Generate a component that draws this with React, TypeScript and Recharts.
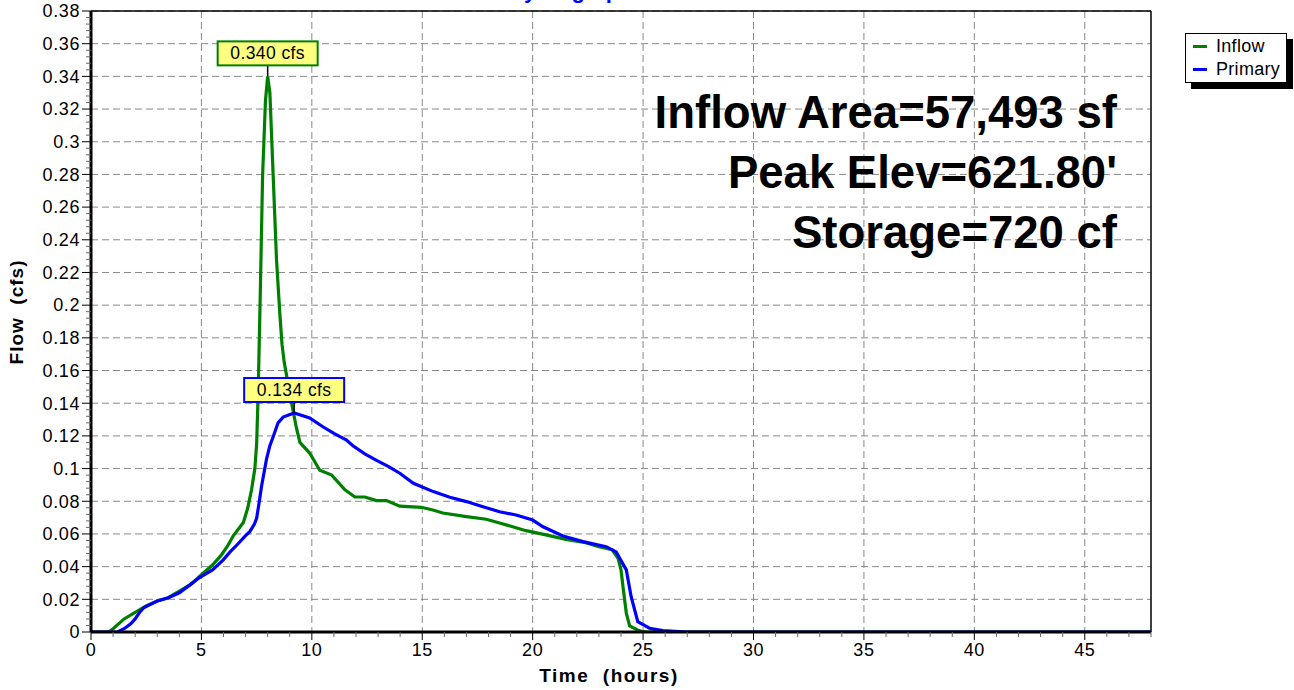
import { LineChart, Line, XAxis, YAxis, CartesianGrid, ReferenceLine, ReferenceDot } from 'recharts'

const FONT = '"Liberation Sans", Arial, sans-serif'
const PLOT_LEFT = 91
const PLOT_BOTTOM = 632

// Inflow hydrograph (hours, cfs)
const inflowTime = [
  0, 0.8, 1.0, 1.5, 2.0, 2.5, 3.0, 3.5, 4.0, 4.5, 5.0, 5.5, 5.9, 6.2, 6.45, 6.9, 7.1, 7.27, 7.42, 7.5,
  7.57, 7.67, 7.77, 7.9, 8.0, 8.1, 8.25, 8.4, 8.55, 8.65, 8.75, 9.0, 9.3, 9.46, 9.9, 10.36, 10.9, 11.5,
  11.95, 12.4, 12.93, 13.38, 13.98, 14.96, 15.48, 15.93, 17.0, 17.9, 18.5, 19.7, 20.6, 21.5, 22.4, 23.0,
  23.6, 23.86, 24.0, 24.09, 24.24, 24.39, 24.75, 25.0, 25.2, 48,
]
const inflowFlow = [
  0, 0, 0.002, 0.008, 0.012, 0.016, 0.019, 0.021, 0.025, 0.029, 0.035, 0.041, 0.047, 0.053, 0.059, 0.067,
  0.076, 0.087, 0.1, 0.115, 0.146, 0.21, 0.279, 0.325, 0.34, 0.33, 0.279, 0.228, 0.195, 0.176, 0.165,
  0.146, 0.125, 0.116, 0.1095, 0.099, 0.096, 0.087, 0.0826, 0.0826, 0.0804, 0.0804, 0.077, 0.0763, 0.0747,
  0.0728, 0.0706, 0.069, 0.0667, 0.062, 0.0594, 0.0567, 0.0547, 0.0522, 0.0503, 0.0453, 0.038, 0.0277,
  0.0116, 0.0037, 0.0012, 0.0002, 0, 0,
]

// Primary outflow (hours, cfs)
const primaryTime = [
  0, 1.2, 1.5, 1.8, 2.0, 2.2, 2.4, 3.0, 3.5, 4.0, 4.5, 4.93, 5.5, 5.98, 6.3, 6.66, 7.0, 7.19, 7.4, 7.5,
  7.6, 7.72, 7.8, 7.87, 7.95, 8.1, 8.25, 8.47, 8.7, 9.2, 9.9, 10.5, 11.0, 11.57, 11.86, 12.4, 12.93, 13.5,
  14.0, 14.6, 15.5, 16.25, 17.0, 17.75, 18.5, 19.25, 20.0, 20.47, 21.37, 22.28, 23.33, 23.78, 24.24,
  24.46, 24.76, 25.29, 25.9, 27, 48,
]
const primaryFlow = [
  0, 0, 0.002, 0.005, 0.008, 0.012, 0.015, 0.019, 0.021, 0.024, 0.029, 0.0335, 0.038, 0.044, 0.049, 0.054,
  0.059, 0.0614, 0.066, 0.0696, 0.078, 0.0889, 0.095, 0.1, 0.106, 0.114, 0.1195, 0.128, 0.1315, 0.134,
  0.131, 0.1256, 0.1215, 0.1175, 0.114, 0.109, 0.105, 0.101, 0.097, 0.091, 0.0859, 0.0824, 0.0798, 0.0767,
  0.0736, 0.0716, 0.0685, 0.0644, 0.0587, 0.0553, 0.0522, 0.049, 0.038, 0.0216, 0.0063, 0.0023, 0.0008, 0, 0,
]

const yTicks = Array.from({ length: 96 }, (_, i) => +(i * 0.004).toFixed(3))
const yMajor = Array.from({ length: 20 }, (_, i) => +(i * 0.02).toFixed(2))
const xTicks = Array.from({ length: 49 }, (_, i) => i)
const xMajor = [0, 5, 10, 15, 20, 25, 30, 35, 40, 45]

const inflowPeak = { t: 8.0, flow: 0.34, label: '0.340 cfs' }
const primaryPeak = { t: 9.2, flow: 0.134, label: '0.134 cfs' }

const notes = ['Inflow Area=57,493 sf', "Peak Elev=621.80'", 'Storage=720 cf']

const inflowData = inflowTime.map((t, i) => ({ t, flow: inflowFlow[i] }))
const primaryData = primaryTime.map((t, i) => ({ t, flow: primaryFlow[i] }))

const fmt = (v: number) => String(+v.toFixed(2))

const YTick = (props: any) => {
  const { y, payload } = props
  const v = payload.value
  const major = Math.round(v * 1000) % 20 === 0
  return (
    <g>
      <line x1={PLOT_LEFT - (major ? 9 : 5)} x2={PLOT_LEFT} y1={y} y2={y} stroke={major ? '#000' : '#666'} />
      {major && (
        <text x={PLOT_LEFT - 11} y={y} dy="0.35em" textAnchor="end" fontSize={18} letterSpacing={0.6} fontFamily={FONT} fill="#000">
          {fmt(v)}
        </text>
      )}
    </g>
  )
}

const XTick = (props: any) => {
  const { x, payload } = props
  const v = payload.value
  const major = v % 5 === 0
  return (
    <g>
      <line x1={x} x2={x} y1={PLOT_BOTTOM} y2={PLOT_BOTTOM + (major ? 8 : 5)} stroke={major ? '#000' : '#666'} />
      {major && (
        <text x={x} y={PLOT_BOTTOM + 24} textAnchor="middle" fontSize={18} letterSpacing={0.6} fontFamily={FONT} fill="#000">
          {v}
        </text>
      )}
    </g>
  )
}

const peakBox = (label: string, color: string) => (props: any) => {
  const { cx, cy } = props
  return (
    <g>
      <line x1={cx} x2={cx} y1={cy} y2={cy - 11} stroke="#000" strokeWidth={1.5} />
      <rect x={cx - 50} y={cy - 35} width={100} height={24} fill="#ffff80" stroke={color} strokeWidth={2} />
      <text x={cx} y={cy - 17} textAnchor="middle" fontSize={17.5} letterSpacing={0.4} fontFamily={FONT} fill="#000">
        {label}
      </text>
    </g>
  )
}

export default function App() {
  return (
    <div style={{ position: 'absolute', left: 0, top: 0, width: 1294, height: 690, background: '#fff', overflow: 'hidden', fontFamily: FONT }}>
      <div style={{ position: 'absolute', top: -22, left: 508, fontSize: 22, fontWeight: 'bold', color: '#0000ff', lineHeight: 'normal' }}>
        Hydrograph
      </div>
      <LineChart width={1294} height={690} margin={{ top: 11, right: 143, bottom: 0, left: 0 }}>
        <CartesianGrid
          stroke="#888"
          strokeDasharray="7 4"
          horizontalValues={yMajor}
          verticalValues={xMajor}
        />
        <XAxis
          type="number"
          dataKey="t"
          domain={[0, 48]}
          ticks={xTicks}
          interval={0}
          height={58}
          tick={<XTick />}
          tickLine={false}
          axisLine={{ stroke: '#000', strokeWidth: 3 }}
          allowDataOverflow
        />
        <YAxis
          type="number"
          domain={[0, 0.38]}
          ticks={yTicks}
          interval={0}
          width={91}
          tick={<YTick />}
          tickLine={false}
          axisLine={{ stroke: '#000', strokeWidth: 3 }}
          allowDataOverflow
        />
        <ReferenceLine y={0.38} stroke="#000" strokeWidth={1.5} />
        <ReferenceLine x={48} stroke="#000" strokeWidth={1.5} />
        <Line data={inflowData} dataKey="flow" name="Inflow" stroke="#008000" strokeWidth={3.2} dot={false} type="linear" isAnimationActive={false} />
        <Line data={primaryData} dataKey="flow" name="Primary" stroke="#0000ff" strokeWidth={3.2} dot={false} type="linear" isAnimationActive={false} />
        <ReferenceDot x={inflowPeak.t} y={inflowPeak.flow} r={0} shape={peakBox(inflowPeak.label, '#008000')} />
        <ReferenceDot x={primaryPeak.t} y={primaryPeak.flow} r={0} shape={peakBox(primaryPeak.label, '#0000ff')} />
      </LineChart>

      <div style={{ position: 'absolute', left: 17, top: 312, transform: 'translate(-50%, -50%) rotate(-90deg)', fontSize: 19, fontWeight: 'bold', whiteSpace: 'pre', letterSpacing: 1 }}>
        Flow  (cfs)
      </div>
      <div style={{ position: 'absolute', left: 609, top: 676, transform: 'translate(-50%, -50%)', fontSize: 19, fontWeight: 'bold', whiteSpace: 'pre', letterSpacing: 1.5 }}>
        Time  (hours)
      </div>

      {notes.map((n, i) => (
        <div key={n} style={{ position: 'absolute', right: 1294 - 1117, top: 88 + i * 60, fontSize: 45.5, fontWeight: 'bold', whiteSpace: 'pre', lineHeight: '50px' }}>
          {n}
        </div>
      ))}

      <div style={{ position: 'absolute', left: 1191, top: 39, width: 102, height: 50, background: '#000' }} />
      <div style={{ position: 'absolute', left: 1185, top: 33, width: 100, height: 48, background: '#fff', border: '1px solid #000', fontSize: 18 }}>
        {[
          ['Inflow', '#008000'],
          ['Primary', '#0000ff'],
        ].map(([name, color]) => (
          <div key={name} style={{ display: 'flex', alignItems: 'center', height: 21, marginTop: 2 }}>
            <div style={{ width: 14, height: 3, background: color, marginLeft: 7, marginRight: 9 }} />
            <span style={{ letterSpacing: 0.3 }}>{name}</span>
          </div>
        ))}
      </div>
    </div>
  )
}
